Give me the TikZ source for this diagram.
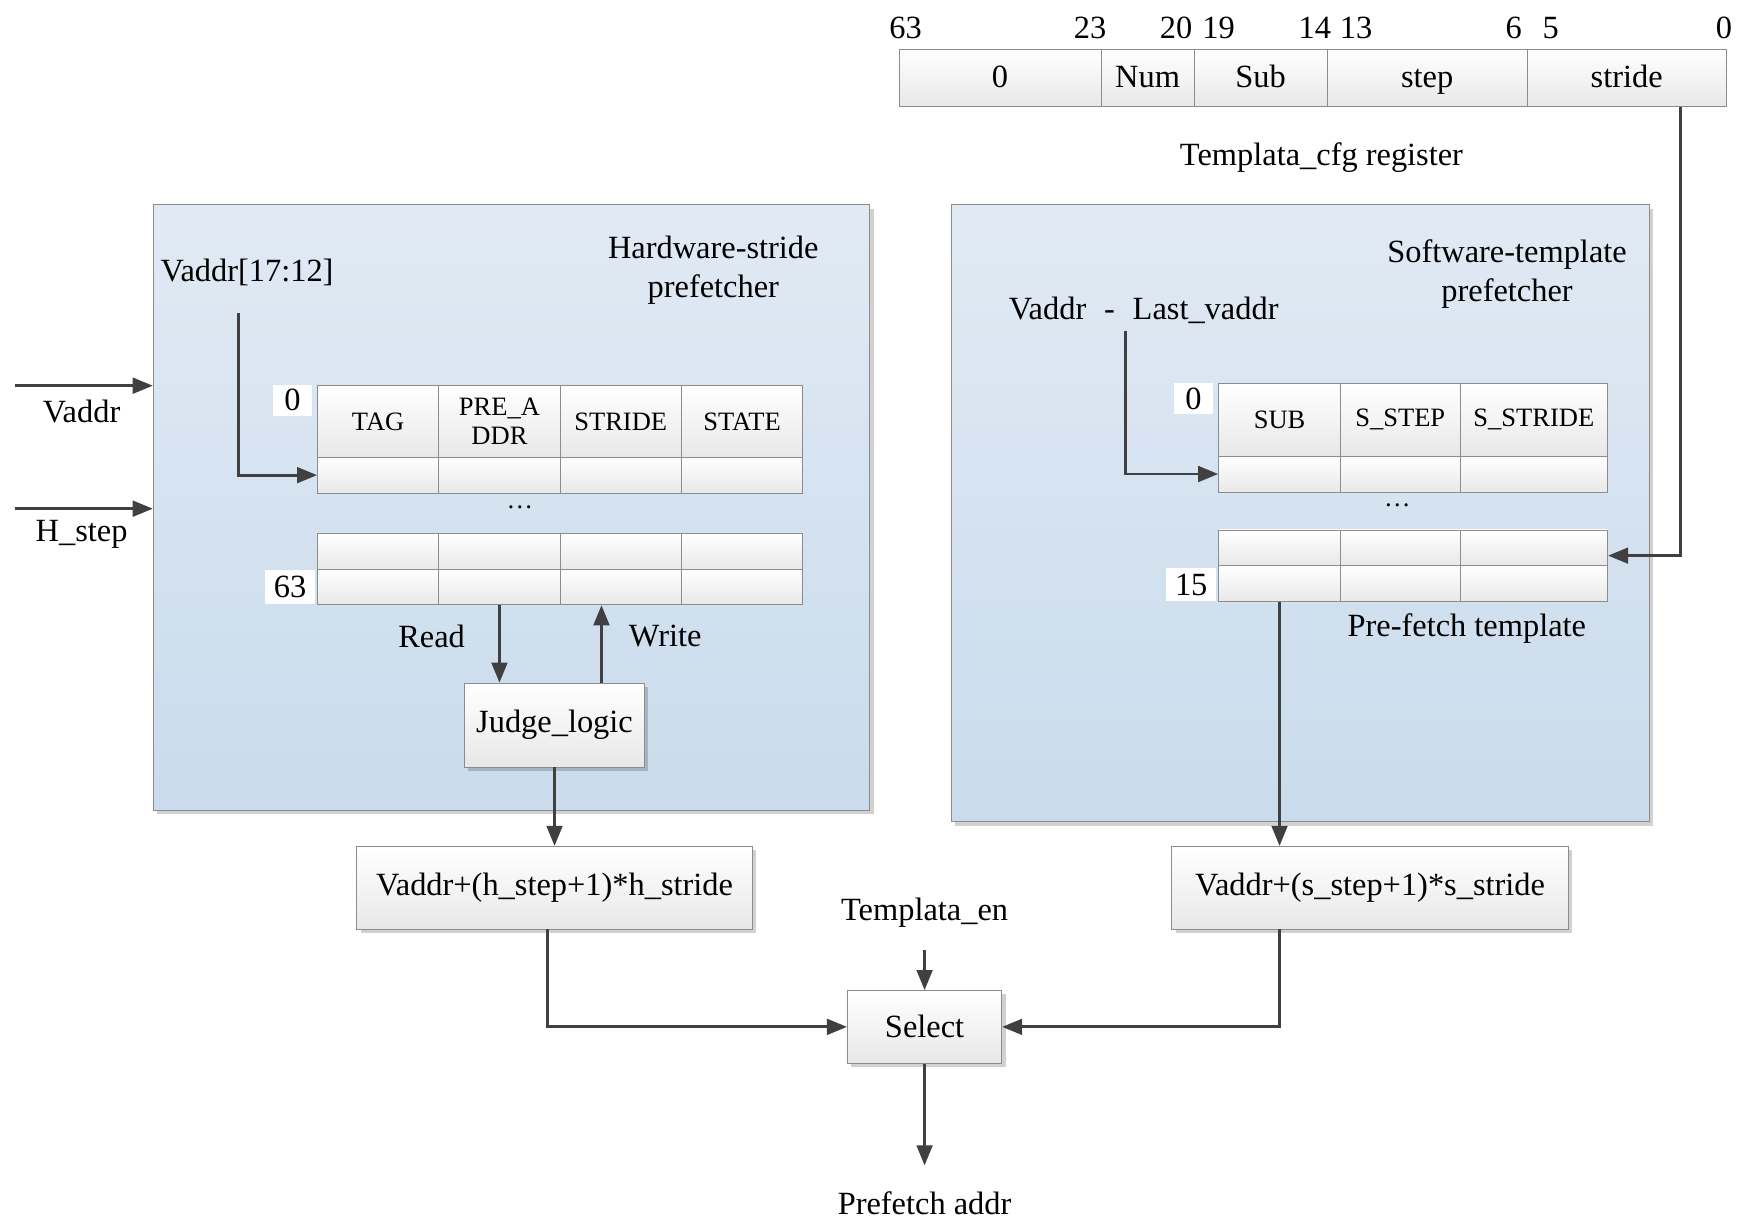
\documentclass[tikz,border=0pt]{standalone}
\usepackage{fontspec}
\setmainfont{Liberation Serif}
\usetikzlibrary{arrows.meta,shadows}

\definecolor{lineg}{HTML}{404040}
\definecolor{edgeg}{HTML}{8C8C8C}
\definecolor{paneltop}{HTML}{E1EAF4}
\definecolor{panelbot}{HTML}{C9DBEC}

\tikzset{
  shade/.style={drop shadow={shadow xshift=0.07cm, shadow yshift=-0.07cm, fill=black, opacity=0.18}},
  panel/.style={draw=edgeg, top color=paneltop, bottom color=panelbot, shade, inner sep=0},
  blk/.style={draw=edgeg, top color=white, bottom color=black!9, shade, inner sep=0},
  cell/.style={draw=edgeg, top color=white, bottom color=black!9, inner sep=0,
    font=\fontsize{13.5}{15}\selectfont, align=center},
  regcell/.style={draw=edgeg, top color=white, bottom color=black!9, inner sep=0,
    minimum height=1.02cm, text height=2.2ex, text depth=0pt},
  idx/.style={fill=white, inner sep=0},
  arr/.style={->, draw=lineg, line width=1.5pt},
}

\begin{document}
\begin{tikzpicture}[x=0.02cm, y=-0.02cm, >={Triangle[length=0.36cm,width=0.28cm]},
  font=\fontsize{16.5}{20}\selectfont]
  \useasboundingbox (0,0) rectangle (1568,1101);

  % config register
  \foreach \x/\w/\t [count=\i] in {894.5/3.62/0, 1026.5/1.66/Num, 1127.5/2.38/Sub,
      1276.5/3.58/step, 1455/3.56/stride}
    \node[regcell, minimum width=\w cm] (reg\i) at (\x,69.5) {\t};
  \foreach \x/\t in {810/63, 975/23, 1052/20, 1090/19, 1176/14, 1213/13, 1354/6, 1387/5, 1542/0}
    \node (bit\t) at (\x,25) {\t};
  \node (cfg) at (1182,141) {Templata\_cfg register};

  % hardware-stride prefetcher
  \node[panel, minimum width=12.82cm, minimum height=10.84cm] (hw) at (457.5,454) {};
  \node[align=center] (hwname) at (638,242) {Hardware-stride\\prefetcher};
  \node (hidx) at (221,244) {Vaddr[17:12]};
  \coordinate (hv) at (213,280);
  \foreach \x/\t [count=\i] in {338.25/TAG, 446.75/{PRE\_A\\DDR}, 555.25/STRIDE, 663.75/STATE} {
    \node[cell, minimum width=2.17cm, minimum height=1.28cm] (hh\i) at (\x,377) {\t};
    \node[cell, minimum width=2.17cm, minimum height=0.64cm] (hr\i) at (\x,425) {};
    \node[cell, minimum width=2.17cm, minimum height=0.64cm] (hp\i) at (\x,493) {};
    \node[cell, minimum width=2.17cm, minimum height=0.64cm] (hl\i) at (\x,525) {};
  }
  \node[font=\fontsize{13.5}{15}\selectfont] (hdots) at (465,454) {\dots};
  \node[idx, minimum width=0.7cm, minimum height=0.56cm] (hzero) at (261.5,358) {0};
  \node[idx, minimum width=0.9cm, minimum height=0.6cm] (hlast) at (259.5,525) {63};
  \node[blk, minimum width=3.22cm, minimum height=1.5cm] (judge) at (496,648.5) {Judge\_logic};
  \node (rd) at (386,569) {Read};
  \node (wr) at (595,569) {Write};
  \draw[arr] (hv) |- (hr1.west);
  \draw[arr] (hl2.south) -- (hl2.south |- judge.north);
  \draw[arr] ([xshift=0.84cm]judge.north) -- ([xshift=0.84cm]judge.north |- hl3.south);

  % inputs
  \coordinate (vin) at (13,345);
  \coordinate (hin) at (13,455);
  \draw[arr] (vin) -- (vin -| hw.west);
  \draw[arr] (hin) -- (hin -| hw.west);
  \node (vlab) at (73,368) {Vaddr};
  \node (hlab) at (73,478) {H\_step};

  % software-template prefetcher
  \node[panel, minimum width=12.48cm, minimum height=11.04cm] (sw) at (1163,459) {};
  \node[align=center] (swname) at (1348,245) {Software-template\\prefetcher};
  \node (sidx) at (1023,278) {Vaddr\hspace{0.55em}-\hspace{0.55em}Last\_vaddr};
  \coordinate (sv) at (1007,296);
  \foreach \x/\w/\t [count=\i] in {1144.5/2.18/SUB, 1252.5/2.14/S\_STEP, 1372/2.64/S\_STRIDE} {
    \node[cell, minimum width=\w cm, minimum height=1.3cm] (sh\i) at (\x,375.5) {\t};
    \node[cell, minimum width=\w cm, minimum height=0.64cm] (sr\i) at (\x,424) {};
    \node[cell, minimum width=\w cm, minimum height=0.64cm] (sp\i) at (\x,490) {};
    \node[cell, minimum width=\w cm, minimum height=0.64cm] (sl\i) at (\x,522) {};
  }
  \node[font=\fontsize{13.5}{15}\selectfont] (sdots) at (1250,452) {\dots};
  \node[idx, minimum width=0.7cm, minimum height=0.54cm] (szero) at (1067.5,356.5) {0};
  \node[idx, minimum width=0.9cm, minimum height=0.6cm] (slast) at (1065.5,523) {15};
  \node (tmpl) at (1312,562) {Pre-fetch template};
  \draw[arr] (sv) |- (sr1.west);
  \draw[arr] ([xshift=0.96cm]reg5.south) |- ([yshift=-0.14cm]sp3.east);

  % address calculation and select
  \node[blk, minimum width=7.08cm, minimum height=1.48cm] (hcalc) at (496,794) {Vaddr+(h\_step+1)*h\_stride};
  \node[blk, minimum width=7.1cm, minimum height=1.48cm] (scalc) at (1225.5,794) {Vaddr+(s\_step+1)*s\_stride};
  \node[blk, minimum width=2.76cm, minimum height=1.3cm] (sel) at (827,918.5) {Select};
  \node (en) at (827,816) {Templata\_en};
  \node (pf) at (827,1076) {Prefetch addr};
  \draw[arr] (judge.south) -- (hcalc.north);
  \draw[arr] (sl1.south) -- (sl1.south |- scalc.north);
  \draw[arr] ([xshift=-0.12cm]hcalc.south) |- (sel.west);
  \draw[arr] (scalc.south -| sl1.south) |- (sel.east);
  \draw[arr] ([yshift=-0.28cm]en.south) -- (sel.north);
  \draw[arr, shorten >=0.34cm] (sel.south) -- (pf.north);
\end{tikzpicture}
\end{document}
